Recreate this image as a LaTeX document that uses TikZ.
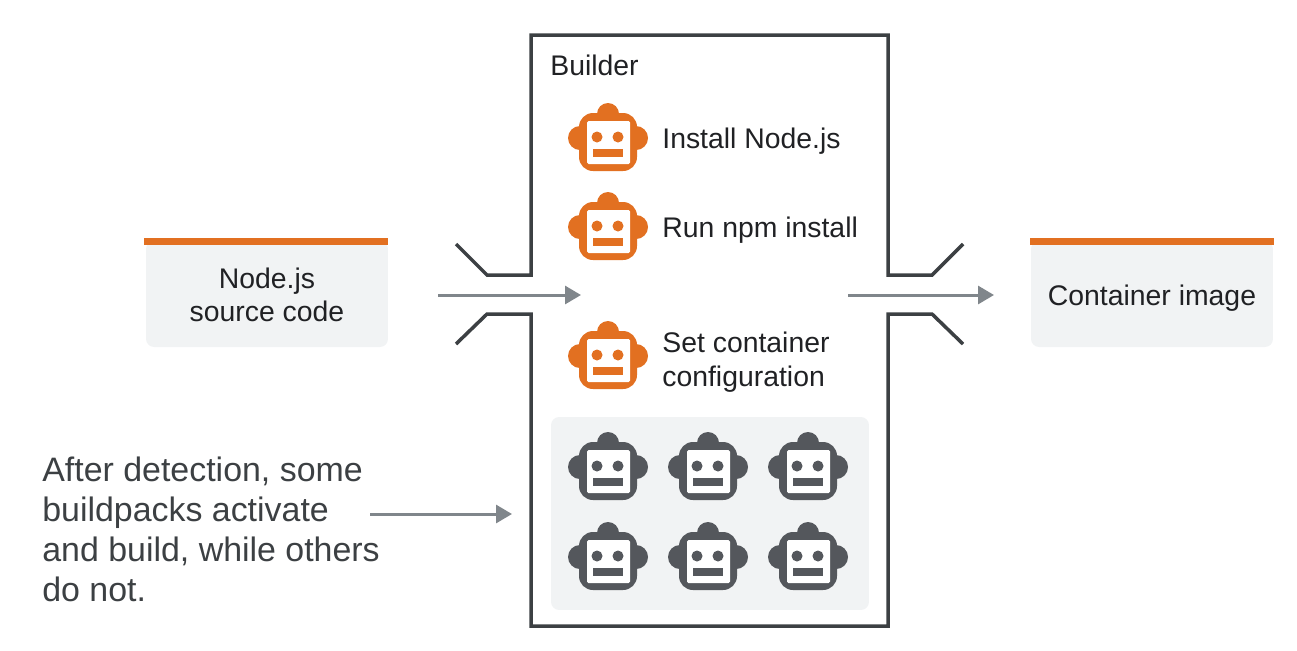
\documentclass[tikz,border=0pt]{standalone}
\usepackage{fontspec}
\setmainfont{Liberation Sans}
\usetikzlibrary{arrows.meta}
\definecolor{orangebp}{RGB}{226,112,33}
\definecolor{grayicon}{RGB}{84,87,92}
\definecolor{panelgray}{RGB}{241,243,244}
\definecolor{arrowgray}{RGB}{128,134,139}
\definecolor{wallgray}{RGB}{60,64,67}
\definecolor{textdark}{RGB}{32,33,36}
\tikzset{
  robot/.pic={
    \fill[#1] (-28,1) circle (12) (28,1) circle (12) (0,-23) circle (11);
    \fill[#1,rounded corners=0.28cm] (-29,-24) rectangle (29,34);
    \fill[white,rounded corners=0.03cm] (-21,-16) rectangle (22,27);
    \fill[#1] (-11,0) circle (5.5) (10,0) circle (5.5);
    \fill[#1] (-15,12) rectangle (15,20);
  },
  srcbox/.style={fill=panelgray, rounded corners=0.16cm, minimum width=4.84cm,
    minimum height=2.12cm, inner sep=0pt},
  topbar/.style={draw=orangebp, line width=0.14cm},
  steptext/.style={anchor=base west, inner sep=0pt, align=left, text=textdark,
    font=\fontsize{16.15}{19}\selectfont},
  flowarrow/.style={-{Triangle[length=0.32cm,width=0.36cm]}, draw=arrowgray,
    fill=arrowgray, line width=0.06cm},
  wall/.style={draw=wallgray, line width=0.07cm, miter limit=10},
}
\begin{document}
\begin{tikzpicture}[x=0.02cm, y=-0.02cm]
    \useasboundingbox (0,0) rectangle (1297,650);

    % --- input and output ---
    \node[srcbox] (source) at (267,294) {};
    \node[srcbox] (image) at (1152,294) {};
    \draw[topbar] (144,241) -- (388,241);
    \draw[topbar] (1030,241) -- (1274,241);
    \node[steptext, anchor=base, align=center] (sourcetext) at (267,288) {Node.js};
    \node[steptext, anchor=base, align=center] (sourcetextb) at (267,321) {source code};
    \node[steptext, anchor=base, align=center] (imagetext) at (1152,305) {Container image};

    % --- builder walls ---
    \draw[wall] (456,244) -- (487,275) -- (531,275) -- (531,35) -- (888,35)
          -- (888,275) -- (932,275) -- (963,244);
    \draw[wall] (456,344) -- (487,314) -- (531,314) -- (531,626) -- (888,626)
          -- (888,314) -- (932,314) -- (963,344);
    \node[steptext] (builder) at (550,75) {Builder};

    % --- active steps ---
    \pic at (608,137) {robot=orangebp};
    \pic at (608,226) {robot=orangebp};
    \pic at (608,355) {robot=orangebp};
    \node[steptext] (install) at (662,148) {Install Node.js};
    \node[steptext] (npm) at (662,237) {Run npm install};
    \node[steptext] (config) at (662,352) {Set container};
    \node[steptext] (configb) at (662,386) {configuration};

    % --- other buildpacks ---
    \node[fill=panelgray, rounded corners=0.16cm, minimum width=6.36cm,
          minimum height=3.86cm, inner sep=0pt] (panel) at (710,513.5) {};
    \foreach \px in {608,708,808}
      \foreach \py in {466,556}
        \pic at (\px,\py) {robot=grayicon};

    % --- note ---
    \node[anchor=west, inner sep=0pt, align=left, text=wallgray,
          font=\fontsize{19.3}{22.8}\selectfont] (note) at (42,529)
          {After detection, some\\buildpacks activate\\and build, while others\\do not.};

    % --- arrows ---
    \coordinate (inA) at (438,295);
    \coordinate (inB) at (581,295);
    \coordinate (outA) at (848,295);
    \coordinate (outB) at (994,295);
    \coordinate (noteA) at (370,514);
    \coordinate (noteB) at (512,514);
    \draw[flowarrow] (inA) -- (inB);
    \draw[flowarrow] (outA) -- (outB);
    \draw[flowarrow] (noteA) -- (noteB);
\end{tikzpicture}
\end{document}
